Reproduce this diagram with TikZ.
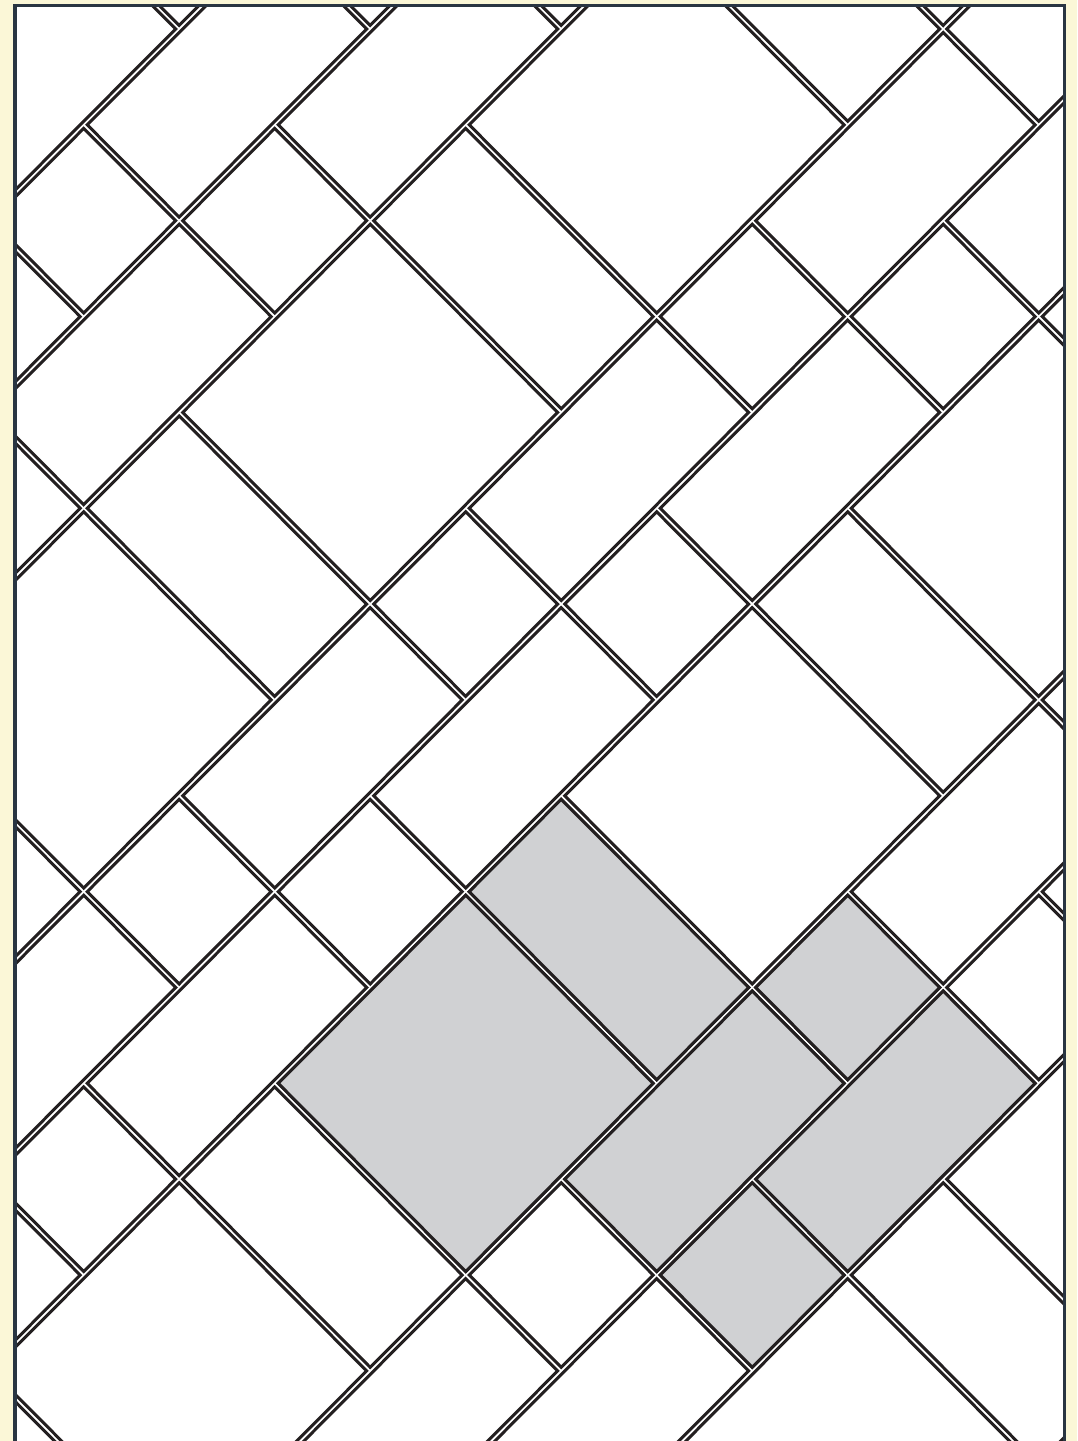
\documentclass[tikz,border=0pt]{standalone}
\definecolor{cream}{RGB}{251,247,215}
\definecolor{framec}{RGB}{41,53,66}
\definecolor{grout}{RGB}{35,31,32}
\definecolor{tilegray}{RGB}{208,209,211}
\tikzset{tileline/.style={draw=grout,line width=3.0pt,line join=miter}}
\def\ins{0.0186}
\newcommand\tilep[5]{\filldraw[tileline,fill=#1] ({#2+\ins},{#3+\ins}) -- ({#4-\ins},{#3+\ins}) -- ({#4-\ins},{#5-\ins}) -- ({#2+\ins},{#5-\ins}) -- cycle;}
\newcommand\tileset[1]{%
  \tilep{#1}{7}{-4}{9}{-2}%
  \tilep{#1}{7}{-2}{9}{-1}%
  \tilep{#1}{9}{-1}{10}{0}%
  \tilep{#1}{9}{-3}{10}{-1}%
  \tilep{#1}{10}{-2}{11}{0}%
  \tilep{#1}{10}{-3}{11}{-2}%
}
\begin{document}
\begin{tikzpicture}[x=1pt,y=1pt]
\useasboundingbox (0,0) rectangle (1077,1441);
\fill[cream] (0,0) rectangle (1077,1441);
\fill[white] (15.1,-10) rectangle (1064.3,1435.7);
\begin{scope}
\clip (15.1,-10) rectangle (1064.3,1435.7);
\begin{scope}[shift={(-11.8,1412)}, x={(95.5pt,-95.85pt)}, y={(95.5pt,95.85pt)}]
  \foreach \i in {-3,...,2}{
    \foreach \j in {-3,...,3}{
      \begin{scope}[shift={(4*\i,3*\j)}]
        \tileset{white}
      \end{scope}
    }
  }
  \tileset{tilegray}
\end{scope}
\end{scope}
\draw[framec,line width=3.4pt] (15.1,-10) -- (15.1,1435.7) -- (1064.3,1435.7) -- (1064.3,-10);
\end{tikzpicture}
\end{document}
